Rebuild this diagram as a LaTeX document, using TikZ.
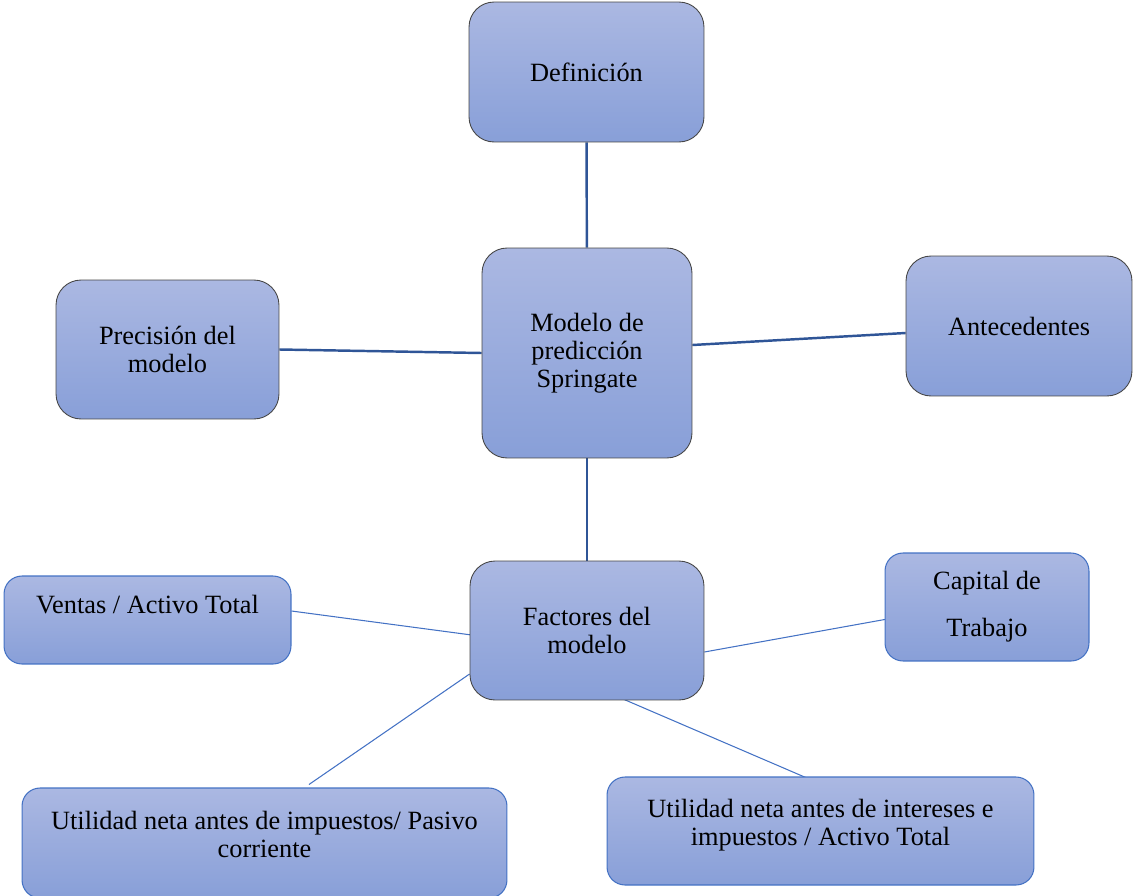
\documentclass[tikz,border=0pt]{standalone}
\usepackage{fontspec}
\setmainfont{Liberation Serif}
\usepackage{tikz}
\usetikzlibrary{positioning,backgrounds}
\usepackage{xcolor}

\definecolor{boxtop}{RGB}{171,184,226}
\definecolor{boxbot}{RGB}{136,159,216}
\definecolor{mainline}{RGB}{47,85,151}
\definecolor{leafline}{RGB}{68,114,196}
\definecolor{edgegray}{RGB}{70,70,70}

\begin{document}
\begin{tikzpicture}[
  x=0.02cm, y=-0.02cm,
  basebox/.style={rectangle, top color=boxtop, bottom color=boxbot,
                  align=center, inner sep=2pt,
                  font=\fontsize{15}{16}\selectfont},
  topicbox/.style={basebox, draw=edgegray, line width=0.5pt, rounded corners=0.5cm},
  leafbox/.style={basebox, draw=leafline, line width=0.6pt, rounded corners=0.36cm},
  mainlink/.style={draw=mainline, line width=1.4pt},
  leaflink/.style={draw=leafline, line width=0.6pt}
]
\useasboundingbox (0,0) rectangle (1133,896);

% Central node
\node[topicbox, minimum width=4.2cm, minimum height=4.2cm] (mod) at (587,353)
  {Modelo de\\ predicción\\ Springate};

% Main topics
\node[topicbox, minimum width=4.7cm, minimum height=2.8cm] (def) at (586.5,72) {Definición};
\node[topicbox, minimum width=4.46cm, minimum height=2.78cm] (pre) at (167.5,349.5)
  {Precisión del\\ modelo};
\node[topicbox, minimum width=4.52cm, minimum height=2.8cm] (ant) at (1019,326) {Antecedentes};
\node[topicbox, minimum width=4.68cm, minimum height=2.78cm] (fac) at (587,630.5)
  {Factores del\\ modelo};

% Factors
\node[leafbox, minimum width=5.74cm, minimum height=1.76cm, text depth=0.62cm] (ven) at (147.5,620)
  {Ventas / Activo Total};
\node[leafbox, minimum width=4.08cm, minimum height=2.16cm] (cap) at (987,607)
  {Capital de\\[0.38cm] Trabajo};
\node[leafbox, minimum width=9.7cm, minimum height=2.2cm, text depth=0.33cm] (ut1) at (264.5,843)
  {Utilidad neta antes de impuestos/ Pasivo\\ corriente};
\node[leafbox, minimum width=8.54cm, minimum height=2.16cm, text depth=0.35cm] (ut2) at (820.5,831)
  {Utilidad neta antes de intereses e\\ impuestos / Activo Total};

% Connectors
\begin{scope}[on background layer]
\draw[mainlink] (def) -- (mod);
\draw[mainlink] (pre.east) -- (mod.west);
\draw[mainlink] ([yshift=0.16cm]mod.east) -- ([yshift=-0.14cm]ant.west);
\draw[mainlink] (mod) -- (fac);

\draw[leaflink] ([yshift=0.18cm]ven.east) -- ([xshift=0.04cm,yshift=-0.09cm]fac.west);
\draw[leaflink] ([yshift=-0.43cm]fac.east) -- ([xshift=0.06cm,yshift=-0.24cm]cap.west);
\draw[leaflink] ([yshift=-0.87cm]fac.west) -- ([xshift=0.89cm,yshift=0.06cm]ut1.north);
\draw[leaflink] ([xshift=0.6cm,yshift=0.08cm]fac.south) -- ([xshift=-0.25cm,yshift=-0.04cm]ut2.north);
\end{scope}

\end{tikzpicture}
\end{document}
